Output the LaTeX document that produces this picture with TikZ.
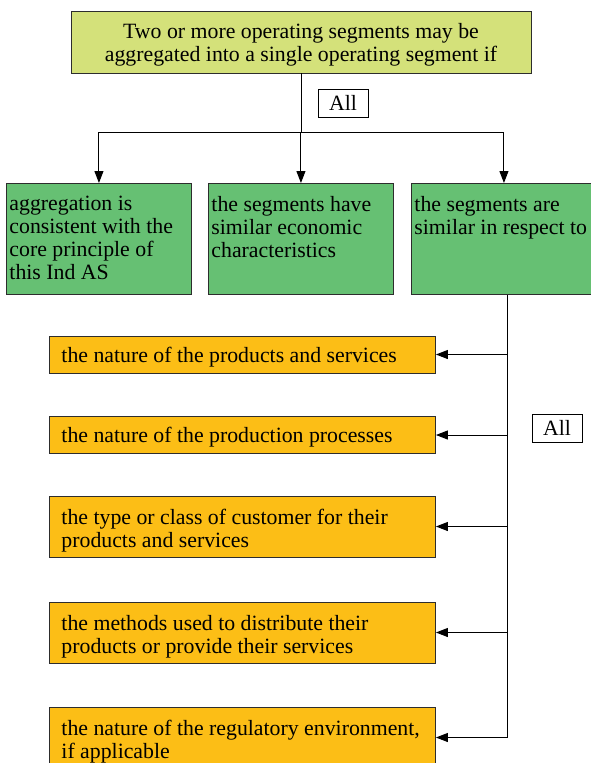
\documentclass[tikz,border=0pt]{standalone}
\usepackage{fontspec}
\setmainfont{Liberation Serif}
\usetikzlibrary{arrows.meta}
\definecolor{rulefill}{RGB}{212,225,122}
\definecolor{segfill}{RGB}{102,192,115}
\definecolor{critfill}{RGB}{252,190,22}
\definecolor{edge}{RGB}{45,45,45}
\newcommand{\segtext}[1]{\parbox[t][85pt][t]{179pt}{\raggedright #1}}
\begin{document}
\begin{tikzpicture}[x=1pt, y=-1pt,
  every node/.style={font=\fontsize{21.8}{23}\selectfont},
  rulebox/.style={draw=edge, line width=0.9pt, fill=rulefill, align=center, minimum width=460pt, minimum height=62pt, inner sep=0pt, text depth=-3pt},
  segbox/.style={draw=edge, line width=0.9pt, fill=segfill, anchor=north west, inner xsep=3pt, inner ysep=13pt},
  critbox/.style={draw=edge, line width=0.9pt, fill=critfill, anchor=west, align=flush left, text width=362pt, minimum height=37pt, inner xsep=12pt, inner ysep=0pt, text depth=-4pt},
  twoline/.style={minimum height=61pt, text depth=19pt},
  tag/.style={draw=black, line width=0.8pt, fill=white, minimum width=50pt, minimum height=28pt, inner sep=0pt},
  arr/.style={-{Triangle[length=12pt,width=9pt]}, line width=1pt}]
\useasboundingbox (0,0) rectangle (591,763);
% top rule
\node[rulebox] (rule) at (301,42) {Two or more operating segments may be\\aggregated into a single operating segment if};
\node[tag] (allone) at (343,103) {All};
% three conditions
\node[segbox] (agg) at (6,183) {\segtext{aggregation is\\consistent with the\\core principle of\\this Ind AS}};
\node[segbox] (econ) at (208,183) {\segtext{the segments have\\similar economic\\characteristics}};
\node[segbox] (resp) at (411,183) {\segtext{the segments are\\similar in respect to}};
% similarity criteria
\node[critbox] (nature) at (49,354.5) {the nature of the products and services};
\node[critbox] (process) at (49,435) {the nature of the production processes};
\node[critbox, twoline] (customer) at (49,526.5) {the type or class of customer for their\\products and services};
\node[critbox, twoline] (distrib) at (49,632.5) {the methods used to distribute their\\products or provide their services};
\node[critbox, twoline] (regul) at (49,737.5) {the nature of the regulatory environment,\\if applicable};
\node[tag] (alltwo) at (557,428) {All};
% connectors
\coordinate (split) at (301,132);
\coordinate (spine) at (507,0);
\draw[line width=1pt] (rule) -- (split);
\draw[arr] (split) -| (agg);
\draw[arr] (split) -| (econ);
\draw[arr] (split) -| (resp);
\draw[line width=1pt] (resp.south -| spine) -- (regul.east -| spine);
\foreach \c in {nature,process,customer,distrib,regul}
  \draw[arr] (\c.east -| spine) -- (\c.east);
\end{tikzpicture}
\end{document}
